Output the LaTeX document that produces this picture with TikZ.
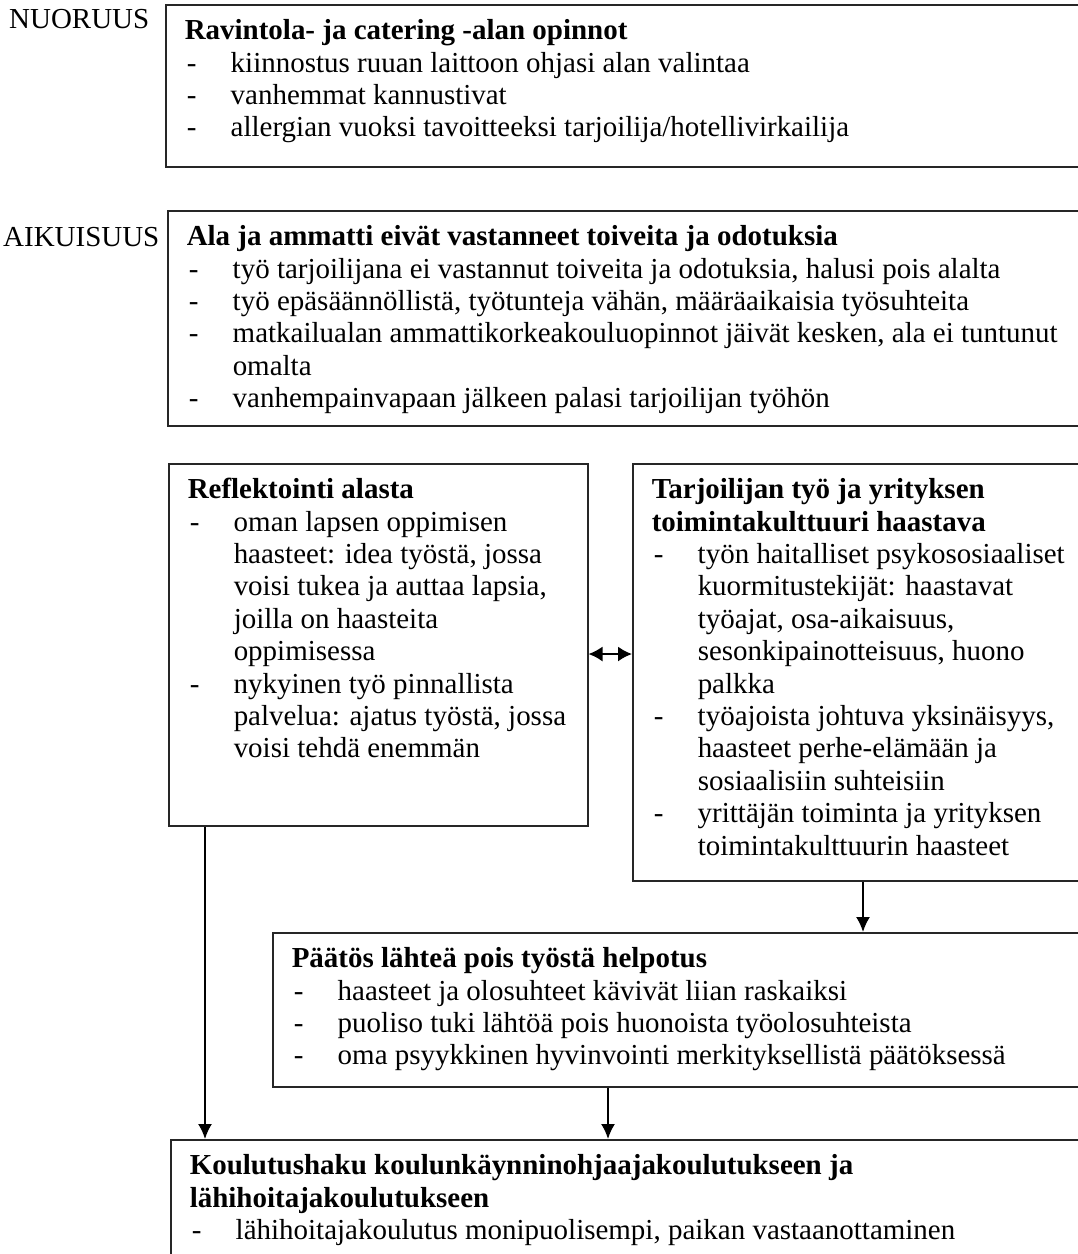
\documentclass[tikz,border=0pt]{standalone}
\usepackage{fontspec}
\setmainfont{Liberation Serif}
\usetikzlibrary{arrows.meta}
\newlength\refw
\newcommand\mainfont{\fontsize{\fsz pt}{32.4pt}\selectfont}
\newcommand\bx[3]{\parbox[t][#2][t]{#1}{\vspace*{12.3pt}\hspace*{19pt}#3}}
\newenvironment{itl}{\begin{tabular}[t]{@{\hspace{2pt}}p{44pt}@{}l@{}}}{\end{tabular}}
\AtBeginDocument{%
  \settowidth\refw{\normalfont\fontsize{10pt}{12pt}\selectfont työn haitalliset psykososiaaliset}%
  \pgfmathsetmacro\fsz{3670/\refw}%
}
\begin{document}
\begin{tikzpicture}[x=1pt,y=-1pt]
\tikzset{
  box/.style={draw=black!85, line width=1.5pt, inner sep=0pt, anchor=north west, font=\mainfont},
  lbl/.style={inner sep=0pt, anchor=base west, font=\mainfont},
  arr/.style={-{Latex[length=15pt,width=14pt]}, line width=1.8pt},
  darr/.style={{Latex[length=14pt,width=15pt]}-{Latex[length=14pt,width=15pt]}, line width=1.8pt}
}
\useasboundingbox (0,0) rectangle (1078,1254);

\node[lbl] (nuor) at (9,28) {NUORUUS};
\node[lbl] (aik) at (3,246) {AIKUISUUS};

\node[box] (b1) at (165,4) {\bx{930pt}{162pt}{\begin{itl}
\multicolumn{2}{@{}l@{}}{\textbf{Ravintola- ja catering -alan opinnot}}\\
- & kiinnostus ruuan laittoon ohjasi alan valintaa\\
- & vanhemmat kannustivat\\
- & allergian vuoksi tavoitteeksi tarjoilija/hotellivirkailija
\end{itl}}};

\node[box] (b2) at (167,210) {\bx{930pt}{215pt}{\begin{itl}
\multicolumn{2}{@{}l@{}}{\textbf{Ala ja ammatti eivät vastanneet toiveita ja odotuksia}}\\
- & työ tarjoilijana ei vastannut toiveita ja odotuksia, halusi pois alalta\\
- & työ epäsäännöllistä, työtunteja vähän, määräaikaisia työsuhteita\\
- & matkailualan ammattikorkeakouluopinnot jäivät kesken, ala ei tuntunut\\
  & omalta\\
- & vanhempainvapaan jälkeen palasi tarjoilijan työhön
\end{itl}}};

\node[box] (refl) at (168,463) {\bx{419pt}{362pt}{\begin{itl}
\multicolumn{2}{@{}l@{}}{\textbf{Reflektointi alasta}}\\
- & oman lapsen oppimisen\\
  & haasteet: idea työstä, jossa\\
  & voisi tukea ja auttaa lapsia,\\
  & joilla on haasteita\\
  & oppimisessa\\
- & nykyinen työ pinnallista\\
  & palvelua: ajatus työstä, jossa\\
  & voisi tehdä enemmän
\end{itl}}};

\node[box] (tarj) at (632,463) {\bx{470pt}{417pt}{\begin{itl}
\multicolumn{2}{@{}l@{}}{\textbf{Tarjoilijan työ ja yrityksen}}\\
\multicolumn{2}{@{}l@{}}{\textbf{toimintakulttuuri haastava}}\\
- & työn haitalliset psykososiaaliset\\
  & kuormitustekijät: haastavat\\
  & työajat, osa-aikaisuus,\\
  & sesonkipainotteisuus, huono\\
  & palkka\\
- & työajoista johtuva yksinäisyys,\\
  & haasteet perhe-elämään ja\\
  & sosiaalisiin suhteisiin\\
- & yrittäjän toiminta ja yrityksen\\
  & toimintakulttuurin haasteet
\end{itl}}};

\node[box] (paat) at (272,932) {\bx{830pt}{154pt}{\begin{itl}
\multicolumn{2}{@{}l@{}}{\textbf{Päätös lähteä pois työstä helpotus}}\\
- & haasteet ja olosuhteet kävivät liian raskaiksi\\
- & puoliso tuki lähtöä pois huonoista työolosuhteista\\
- & oma psyykkinen hyvinvointi merkityksellistä päätöksessä
\end{itl}}};

\node[box] (koul) at (170,1139) {\bx{930pt}{140pt}{\begin{itl}
\multicolumn{2}{@{}l@{}}{\textbf{Koulutushaku koulunkäynninohjaajakoulutukseen ja}}\\
\multicolumn{2}{@{}l@{}}{\textbf{lähihoitajakoulutukseen}}\\
- & lähihoitajakoulutus monipuolisempi, paikan vastaanottaminen
\end{itl}}};

\draw[darr] ([yshift=-191pt]refl.north east) -- ([yshift=-191pt]refl.north east -| tarj.west);
\draw[arr] ([xshift=231pt]tarj.south west) -- ([xshift=231pt]tarj.south west |- paat.north);
\draw[arr] ([xshift=37pt]refl.south west) -- ([xshift=37pt]refl.south west |- koul.north);
\draw[arr] ([xshift=336pt]paat.south west) -- ([xshift=336pt]paat.south west |- koul.north);
\end{tikzpicture}
\end{document}
